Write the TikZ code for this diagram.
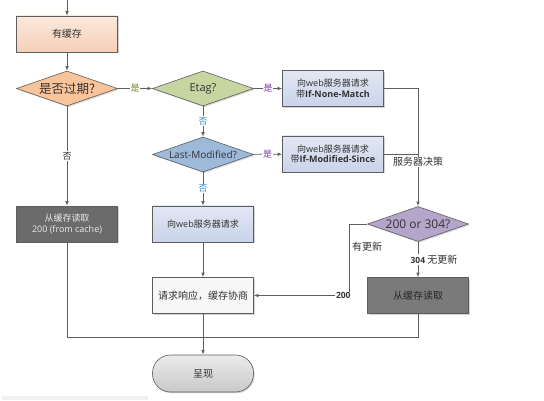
\documentclass[tikz,border=0pt]{standalone}
\usepackage{fontspec}
\setmainfont{Open Sans}
\newfontfamily\cjk{Noto Sans CJK SC}
\usetikzlibrary{shapes.geometric,arrows.meta,shadows}
\definecolor{lnc}{HTML}{5E5E5E}
\definecolor{peachT}{HTML}{FBE8DC}
\definecolor{peachB}{HTML}{F6D0B8}
\definecolor{orgD}{HTML}{F9C49A}
\definecolor{grnD}{HTML}{C7D6A0}
\definecolor{bluD}{HTML}{9DBADA}
\definecolor{lbT}{HTML}{E2E7F3}
\definecolor{lbB}{HTML}{C9D3EA}
\definecolor{purD}{HTML}{B4A5CB}
\definecolor{dk1}{HTML}{6B6B6B}
\definecolor{dk2}{HTML}{7A7A7A}
\definecolor{wbx}{HTML}{F7F7F7}
\definecolor{shT}{HTML}{EBEBEB}
\definecolor{shB}{HTML}{C9C9C9}
\definecolor{txt}{HTML}{333333}
\definecolor{labG}{HTML}{6E8B2E}
\definecolor{labP}{HTML}{7A3DAA}
\definecolor{labB}{HTML}{3C8FD0}
\tikzset{
  shd/.style={drop shadow={opacity=0.35,shadow xshift=1.2pt,shadow yshift=-1.2pt}},
  box/.style={rectangle, draw=lnc, line width=0.6pt, minimum width=101pt, minimum height=36pt,
    inner sep=1pt, align=center, text=txt, font=\fontsize{9}{11.5}\selectfont, shd},
  dia/.style={diamond, draw=lnc, line width=0.6pt, minimum width=101pt, minimum height=35pt,
    inner sep=0pt, aspect=2.9, text=txt, font=\fontsize{11}{13}\selectfont},
  arr/.style={draw=lnc, line width=0.7pt, -{Latex[length=4.5pt,width=3.5pt]}},
  ln/.style={draw=lnc, line width=0.7pt},
  lab/.style={fill=white, inner sep=0.8pt, font=\fontsize{9}{10}\selectfont},
}
\begin{document}
\begin{tikzpicture}[x=1pt,y=-1pt]
\useasboundingbox (0,0) rectangle (544,401);
\fill[gray!12] (2,396) rectangle (148,400);

\coordinate (start) at (67,0);
\node[box, top color=peachT, bottom color=peachB] (cache) at (67,34) {{\cjk\fontsize{10}{12}\selectfont 有缓存}};
\node[dia, fill=orgD, shd, font=\fontsize{12.5}{14}\selectfont] (exp) at (67,88.5) {{\cjk 是否过期?}};
\node[dia, fill=grnD, shd] (etag) at (203,88.5) {Etag?};
\node[dia, fill=bluD, shd, font=\fontsize{10}{12}\selectfont] (lm) at (203,154.5) {Last-Modified?};
\node[box, top color=lbT, bottom color=lbB] (req1) at (333,88.5)
  {{\cjk 向}web{\cjk 服务器请求}\\[-1pt]{\cjk 带}\textbf{If-None-Match}};
\node[box, top color=lbT, bottom color=lbB] (req2) at (333,154)
  {{\cjk 向}web{\cjk 服务器请求}\\[-1pt]{\cjk 带}\textbf{If-Modified-Since}};
\node[box, fill=dk1, text=white!92!black] (c200) at (67,224)
  {{\cjk 从缓存读取}\\[-1pt]200 (from cache)};
\node[box, top color=lbT, bottom color=lbB] (req3) at (203,224) {{\cjk 向}web{\cjk 服务器请求}};
\node[dia, fill=purD, shd, font=\fontsize{12}{14}\selectfont] (dec) at (418,224) {200 or 304?};
\node[box, fill=dk2, text=black!85] (read2) at (418,295.5) {{\cjk\fontsize{10}{12}\selectfont 从缓存读取}};
\node[box, fill=wbx] (resp) at (203,295.5) {{\cjk\fontsize{10}{12}\selectfont 请求响应，缓存协商}};
\node[rectangle, rounded corners=18pt, draw=lnc, line width=0.6pt, minimum width=101pt,
  minimum height=37pt, top color=shT, bottom color=shB, text=txt,
  font=\fontsize{10}{12}\selectfont, shd] (show) at (203,373.5) {{\cjk 呈现}};

\draw[arr] (start) -- (cache);
\draw[arr] (cache) -- (exp);
\draw[arr] (exp) -- node[lab, text=labG, pos=0.5] (l1) {\cjk 是} (etag);
\draw[arr] (etag) -- node[lab, text=labP, pos=0.5] (l2) {\cjk 是} (req1);
\draw[arr] (etag) -- node[lab, text=labB, pos=0.48] (l3) {\cjk 否} (lm);
\draw[arr] (lm) -- node[lab, text=labP, pos=0.5] (l4) {\cjk 是} (req2);
\draw[arr] (lm) -- node[lab, text=labB, pos=0.48] (l5) {\cjk 否} (req3);
\draw[arr] (exp) -- node[lab, text=txt, pos=0.5] (l6) {\cjk 否} (c200);
\draw[arr] (req1.east) -| (dec.north);
\draw[ln] (req2.east) -- (req2.east -| dec.north);
\node[lab, text=txt, font=\fontsize{10}{11}\selectfont] (l7) at (418,162) {\cjk 服务器决策};
\draw[arr] (dec) -- node[lab, text=txt, pos=0.5, xshift=16pt] (l8) {\textbf{\fontsize{8.5}{10}\selectfont 304} {\cjk\fontsize{10}{11}\selectfont 无更新}} (read2);
\coordinate (bend) at (349,224);
\draw[arr] (dec.west) -- (bend) |- node[lab, text=txt, pos=0.53] (l9) {\textbf{\fontsize{8.5}{10}\selectfont 200}} (resp.east);
\node[text=txt, font=\fontsize{10}{11}\selectfont] (l10) at (367,247) {\cjk 有更新};
\draw[arr] (req3) -- (resp);
\draw[arr] (resp) -- (show);
\coordinate (join) at (203,337);
\draw[ln] (c200.south) |- (join);
\draw[ln] (read2.south) |- (join);
\end{tikzpicture}
\end{document}
